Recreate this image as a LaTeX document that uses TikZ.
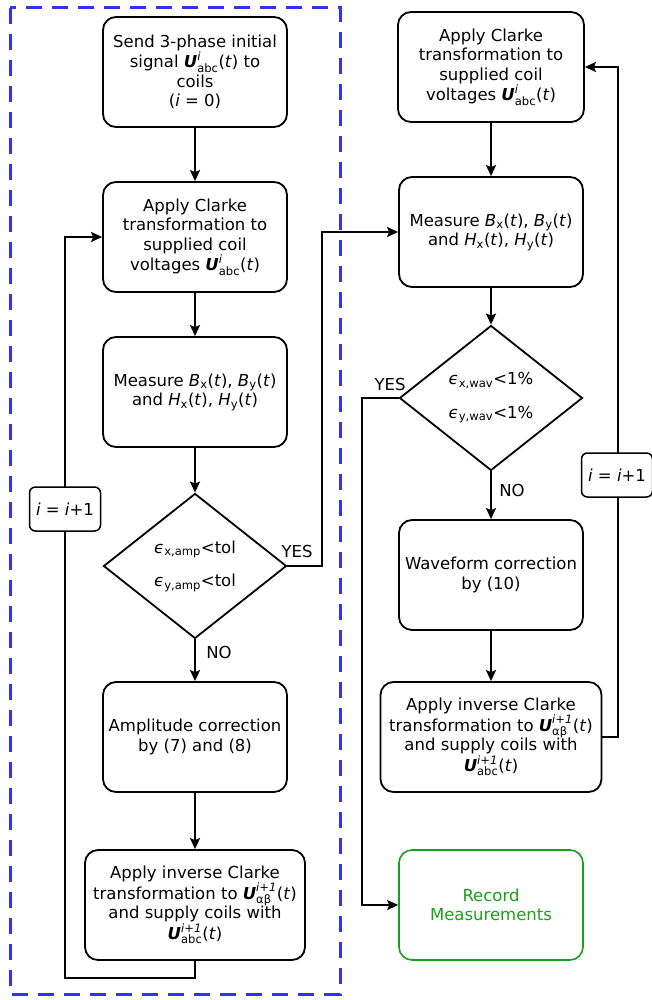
\documentclass[tikz,border=0pt]{standalone}
\usepackage{amsmath}
\usepackage{fontspec}
\setmainfont{DejaVu Sans}
\usepackage{tikz}
\usetikzlibrary{arrows.meta,shapes.geometric,positioning}

\definecolor{planblue}{RGB}{50,50,245}
\definecolor{donegreen}{RGB}{25,160,25}

% signal with stacked indices
\newcommand{\Usig}[2]{$\text{\bfseries\itshape U}^{\text{\itshape #1}}_{\text{#2}}$(\textit{t})}
\newcommand{\qty}[2]{$\text{\itshape #1}_{\text{#2}}$(\textit{t})}
\newcommand{\err}[2]{$\text{\itshape ϵ}_{\text{#1,#2}}$}

\begin{document}
\begin{tikzpicture}
    [
      x=1pt, y=-1pt,
      every node/.style={font=\fontsize{16.5}{19.5}\selectfont},
      block/.style={rectangle,draw,rounded corners=13pt,line width=1.8pt,
        minimum width=184pt,minimum height=110pt,align=center,inner sep=2pt},
      decision/.style={diamond,draw,line width=1.8pt,minimum width=183pt,
        minimum height=145pt,shape aspect=1.3,inner sep=0pt,align=center},
      finish/.style={block,draw=donegreen,text=donegreen,line width=1.6pt},
      counter/.style={rectangle,draw,fill=white,rounded corners=6pt,line width=1.5pt,
        minimum width=71pt,minimum height=44pt},
      flow/.style={-{Stealth[length=11pt,width=10pt,inset=2pt]},line width=1.8pt},
    ]
    \useasboundingbox (0,0) rectangle (652,1000);

    % amplitude loop
    \node (send) [block] at (195,72) {Send 3-phase initial\\signal \Usig{i}{abc} to\\coils\\(\textit{i} = 0)};
    \node (clarke1) [block] at (195,237) {Apply Clarke\\transformation to\\supplied coil\\voltages \Usig{i}{abc}};
    \node (meas1) [block] at (195,392) {Measure \qty{B}{x}, \qty{B}{y}\\and \qty{H}{x}, \qty{H}{y}};
    \node (dec1) [decision] at (195,566) {\err{x}{amp}<tol\\[14pt]\err{y}{amp}<tol};
    \node (amp) [block] at (195,737) {Amplitude correction\\by (7) and (8)};
    \node (inv1) [block, minimum width=220pt] at (195,905) {Apply inverse Clarke\\transformation to \Usig{i+1}{αβ}\\and supply coils with\\\Usig{i+1}{abc}};

    % waveform loop
    \node (clarke2) [block, minimum width=186pt] at (491,67) {Apply Clarke\\transformation to\\supplied coil\\voltages \Usig{i}{abc}};
    \node (meas2) [block] at (491,232) {Measure \qty{B}{x}, \qty{B}{y}\\and \qty{H}{x}, \qty{H}{y}};
    \node (dec2) [decision] at (491,398) {\err{x}{wav}<1\%\\[14pt]\err{y}{wav}<1\%};
    \node (wave) [block] at (491,575) {Waveform correction\\by (10)};
    \node (inv2) [block, minimum width=221pt] at (491,737) {Apply inverse Clarke\\transformation to \Usig{i+1}{αβ}\\and supply coils with\\\Usig{i+1}{abc}};
    \node (record) [finish] at (491,905) {Record\\Measurements};

    \coordinate (loopL) at (65,978);
    \coordinate (bendL) at (322,566);
    \coordinate (bendR) at (362,398);
    \coordinate (loopR) at (618,737);

    \path
    (send) edge [flow] (clarke1)
    (clarke1) edge [flow] (meas1)
    (meas1) edge [flow] (dec1)
    (dec1) edge [flow] (amp)
    (amp) edge [flow] (inv1)
    (clarke2) edge [flow] (meas2)
    (meas2) edge [flow] (dec2)
    (dec2) edge [flow] (wave)
    (wave) edge [flow] (inv2)
    ;

    \draw [flow] (inv1.south) |- (loopL) |- (clarke1.west);
    \draw [flow] (dec1.east) -- (bendL) |- (meas2.west);
    \draw [flow] (dec2.west) -- (bendR) |- (record.west);
    \draw [flow] (inv2.east) -- (loopR) |- (clarke2.east);

    \node (count1) [counter] at (65,509) {\textit{i} = \textit{i}+1};
    \node (count2) [counter] at (617,475) {\textit{i} = \textit{i}+1};

    \node (yes1) at (297,551) {YES};
    \node (no1) at (219,652) {NO};
    \node (yes2) at (390,384) {YES};
    \node (no2) at (512,490) {NO};

    \draw [planblue, line width=3pt, dash pattern=on 16pt off 10pt] (10,8) rectangle (340,994);

\end{tikzpicture}
\end{document}
